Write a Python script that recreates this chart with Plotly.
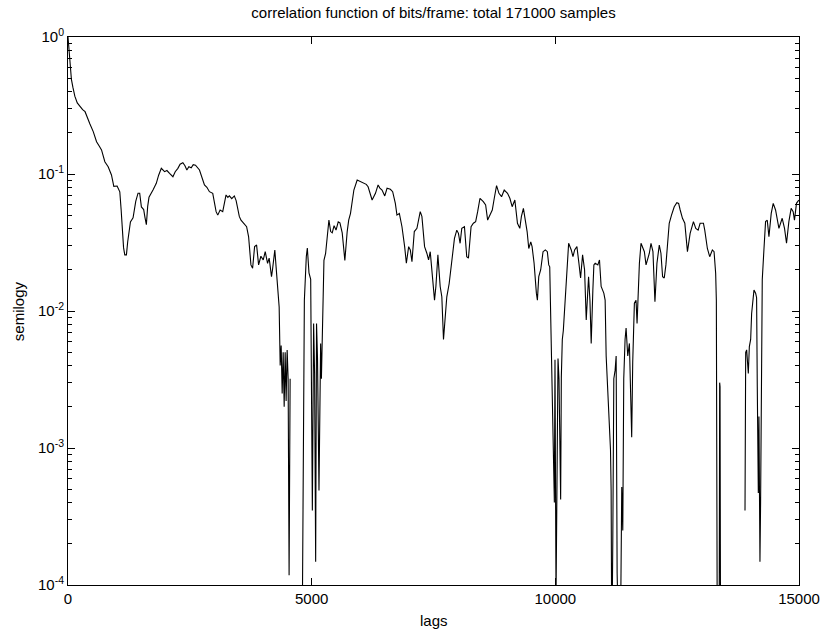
import plotly.graph_objects as go

# Sample correlation of bits/frame versus lag (None = negative, not drawable on log axis)
lags = [
    0, 15, 35, 55, 70, 100, 140, 190, 245, 300, 350, 400, 450, 518, 586, 640, 688, 756, 824, 892,
    940, 1008, 1063, 1090, 1117, 1140, 1165, 1199, 1225, 1253, 1281, 1335, 1360, 1390, 1437, 1471,
    1506, 1553, 1580, 1608, 1635, 1662, 1744, 1812, 1860, 1915, 1982, 2030, 2084, 2153, 2200, 2255,
    2300, 2357, 2400, 2439, 2480, 2528, 2570, 2616, 2698, 2750, 2800, 2850, 2902, 2970, 3000, 3039,
    3073, 3121, 3175, 3210, 3243, 3280, 3311, 3360, 3413, 3450, 3481, 3515, 3550, 3583, 3630, 3665,
    3706, 3730, 3754, 3788, 3810, 3829, 3870, 3890, 3911, 3958, 4006, 4047, 4075, 4095, 4128, 4155,
    4176, 4196, 4220, 4244, 4270, 4298, 4333, 4354, 4374, 4395, 4415, 4436, 4456, 4476, 4497, 4517,
    4537, 4558, 4578, 4800, 4830, 4850, 4890, 4911, 4945, 4980, 5014, 5040, 5060, 5082, 5100, 5120,
    5150, 5170, 5184, 5200, 5232, 5252, 5286, 5320, 5354, 5390, 5422, 5460, 5500, 5545, 5580, 5627,
    5681, 5729, 5760, 5797, 5831, 5866, 5934, 6002, 6070, 6120, 6158, 6200, 6240, 6309, 6363, 6400,
    6444, 6500, 6547, 6615, 6662, 6717, 6750, 6799, 6853, 6908, 6943, 6990, 7024, 7058, 7106, 7160,
    7228, 7262, 7317, 7365, 7399, 7433, 7481, 7521, 7549, 7590, 7637, 7671, 7705, 7739, 7773, 7821,
    7876, 7930, 7978, 8012, 8046, 8080, 8135, 8182, 8217, 8271, 8318, 8365, 8406, 8454, 8522, 8570,
    8611, 8658, 8706, 8747, 8794, 8843, 8897, 8951, 9019, 9067, 9114, 9169, 9223, 9271, 9304, 9345,
    9386, 9421, 9455, 9496, 9523, 9564, 9611, 9632, 9660, 9700, 9748, 9795, 9836, 9865, 9885, 9905,
    9925, 9939, 9966, 9980, 9993, 10014, 10034, 10055, 10075, 10109, 10123, 10143, 10164, 10191,
    10225, 10273, 10327, 10362, 10396, 10443, 10484, 10518, 10559, 10600, 10634, 10660, 10682,
    10710, 10736, 10770, 10791, 10818, 10872, 10906, 10940, 10995, 11022, 11043, 11077, 11111,
    11132, 11145, 11159, 11179, 11200, 11227, 11248, 11268, 11290, 11315, 11336, 11363, 11384,
    11404, 11431, 11452, 11486, 11520, 11567, 11588, 11622, 11656, 11677, 11704, 11725, 11758,
    11793, 11827, 11861, 11895, 11929, 11963, 12003, 12044, 12085, 12133, 12167, 12201, 12235,
    12269, 12303, 12337, 12384, 12440, 12493, 12530, 12562, 12609, 12657, 12711, 12766, 12834,
    12882, 12930, 12971, 13039, 13066, 13120, 13168, 13222, 13257, 13290, 13304, 13315, 13325,
    13345, 13360, 13372, 13380, 13386, 13393, 13400, 13892, 13906, 13926, 13940, 13960, 13981,
    14008, 14028, 14049, 14076, 14110, 14130, 14144, 14165, 14178, 14199, 14212, 14226, 14246,
    14280, 14314, 14349, 14383, 14430, 14471, 14519, 14588, 14655, 14703, 14744, 14792, 14839,
    14880, 14907, 14948, 14996,
]

corr = [
    1.0, 0.85, 0.64, 0.55, 0.49, 0.43, 0.37, 0.33, 0.31, 0.295, 0.285, 0.255, 0.232, 0.204, 0.172, 0.16, 0.150, 0.123, 0.113, 0.0984,
    0.0813, 0.0817, 0.0741, 0.055, 0.0369, 0.029, 0.0257, 0.0257, 0.032, 0.0389, 0.0447, 0.0479, 0.055, 0.0631, 0.0724, 0.0724,
    0.0575, 0.055, 0.048, 0.0427, 0.058, 0.0676, 0.0764, 0.0855, 0.098, 0.110, 0.104, 0.106, 0.101, 0.0955, 0.104, 0.110,
    0.118, 0.121, 0.115, 0.107, 0.113, 0.111, 0.117, 0.116, 0.107, 0.095, 0.0832, 0.080, 0.0743, 0.0723, 0.063, 0.0531,
    0.0501, 0.0546, 0.0531, 0.062, 0.0703, 0.0675, 0.0692, 0.066, 0.0692, 0.064, 0.0575, 0.049, 0.046, 0.0447, 0.043, 0.0412,
    0.0348, 0.027, 0.0217, 0.0205, 0.025, 0.0295, 0.0303, 0.026, 0.0217, 0.0251, 0.0236, 0.0271, 0.024, 0.0223, 0.0243, 0.021,
    0.0178, 0.0200, 0.024, 0.0279, 0.021, 0.0142, 0.0107, 0.004, 0.0056, 0.0025, 0.005, 0.002, 0.005, 0.0022, 0.0052, 0.0032,
    0.000118, 0.0032, None, 0.00002, 0.0035, 0.012, 0.025, 0.0288, 0.019, 0.017, 0.00035, 0.0081, 0.0035, 0.000148, 0.0081, 0.0045,
    0.00049, 0.004, 0.0058, 0.0032, 0.0151, 0.0234, 0.0263, 0.0347, 0.0461, 0.038, 0.0372, 0.042, 0.039, 0.0447, 0.044, 0.0372,
    0.0234, 0.038, 0.046, 0.0516, 0.0646, 0.0764, 0.0904, 0.0879, 0.0855, 0.084, 0.0807, 0.072, 0.0646, 0.0723, 0.0832, 0.079,
    0.0764, 0.0692, 0.0787, 0.0773, 0.0743, 0.0611, 0.0501, 0.0516, 0.0412, 0.0295, 0.0223, 0.0295, 0.0279, 0.0229, 0.038, 0.0401,
    0.0531, 0.049, 0.0295, 0.0263, 0.0236, 0.0271, 0.0178, 0.012, 0.0151, 0.0257, 0.0151, 0.0127, 0.0062, 0.0086, 0.0127, 0.0158,
    0.0236, 0.0339, 0.0389, 0.0369, 0.0312, 0.0401, 0.0412, 0.0249, 0.0243, 0.0412, 0.0437, 0.0449, 0.0531, 0.0665, 0.0628, 0.0594,
    0.0461, 0.0501, 0.0546, 0.0665, 0.0822, 0.0723, 0.0683, 0.0764, 0.0723, 0.0665, 0.0577, 0.0646, 0.0437, 0.0401, 0.049, 0.0562,
    0.0449, 0.038, 0.0286, 0.032, 0.0295, 0.0223, 0.0135, 0.012, 0.0178, 0.020, 0.0271, 0.0279, 0.0271, 0.0217, 0.021, 0.009,
    0.0035, 0.0018, 0.00078, 0.0004, 0.0044, 0.00008, 0.00055, 0.0045, 0.0032, 0.00042, 0.0033, 0.0062, 0.0072, 0.0108,
    0.0169, 0.0312, 0.0279, 0.0249, 0.0279, 0.0295, 0.0223, 0.0174, 0.0257, 0.020, 0.0086, 0.014, 0.0178,
    0.012, 0.0058, 0.0142, 0.0217, 0.0223, 0.0217, 0.0236, 0.0151, 0.0135, 0.012, 0.0047, 0.0028, 0.0016,
    0.00097, 0.00049, 0.00003, 0.00021, 0.0032, 0.0037, 0.0047, 0.000122, 0.00002, 0.00002, 0.00004, 0.00052, 0.00025,
    0.0032, 0.0062, 0.0075, 0.0047, 0.0058, 0.0012, 0.0042, 0.0114, 0.012, 0.0081, 0.0169, 0.0223, 0.0312,
    0.0286, 0.0271, 0.0217, 0.0236, 0.0264, 0.0312, 0.0271, 0.0117, 0.0223, 0.0303, 0.0264, 0.0178, 0.0174,
    0.0217, 0.0312, 0.0437, 0.0501, 0.0577, 0.0618, 0.061, 0.0546, 0.0475, 0.0437, 0.0271, 0.0369, 0.0449,
    0.0401, 0.0389, 0.0437, 0.0437, 0.0389, 0.0286, 0.0249, 0.0279, 0.0271, 0.0188, 0.012, 0.0009, 0.00002,
    None, 0.00002, 0.003, 0.0028, 0.0002, 0.00002, None, 0.00035, 0.005, 0.0052, 0.0044, 0.0035, 0.0055,
    0.0062, 0.0096, 0.012, 0.0142, 0.0135, 0.0125, 0.0028, 0.00047, 0.0017, 0.000148, 0.0004, 0.0062, 0.0169,
    0.0279, 0.0449, 0.046, 0.0348, 0.0516, 0.0611, 0.0546, 0.0401, 0.0475, 0.0401, 0.0312, 0.0449, 0.0562,
    0.0531, 0.0461, 0.0611, 0.0646,
]

x_ticks = [0, 5000, 10000, 15000]
y_ticks = [1e-4, 1e-3, 1e-2, 1e-1, 1e0]
y_tick_text = ["10<sup>-4</sup>", "10<sup>-3</sup>", "10<sup>-2</sup>", "10<sup>-1</sup>", "10<sup>0</sup>"]
y_minor = [m * d for d in (1e-4, 1e-3, 1e-2, 1e-1) for m in range(2, 10)]

W, H = 832, 631
L, R, T, B = 68, 30, 37, 46
font = "Liberation Sans, Arial, Helvetica, sans-serif"

fig = go.Figure(
    go.Scatter(
        x=lags, y=corr, mode="lines",
        line=dict(color="black", width=1.1),
        connectgaps=False, hoverinfo="skip",
    )
)

axis_common = dict(
    showline=True, linecolor="black", linewidth=1, mirror="allticks",
    ticks="inside", tickcolor="black", tickwidth=1,
    showgrid=False, zeroline=False,
    tickfont=dict(family=font, size=15, color="black"),
)

fig.update_xaxes(
    range=[0, 15000], tickmode="array", tickvals=x_ticks,
    ticktext=[str(v) for v in x_ticks], ticklen=7, **axis_common,
)
fig.update_yaxes(
    type="log", range=[-4, 0], tickmode="array", tickvals=y_ticks,
    ticktext=y_tick_text, ticklen=7,
    minor=dict(tickmode="array", tickvals=y_minor, ticks="inside",
               ticklen=4, tickcolor="black", tickwidth=1, showgrid=False),
    **axis_common,
)

fig.update_layout(
    width=W, height=H,
    margin=dict(l=L, r=R, t=T, b=B, pad=0),
    paper_bgcolor="white", plot_bgcolor="white",
    showlegend=False,
    title=dict(
        text="correlation function of bits/frame: total 171000 samples",
        x=0.5, xref="paper", xanchor="center",
        y=1 - 13 / H, yref="container", yanchor="middle",
        font=dict(family=font, size=15, color="black"),
    ),
    annotations=[
        dict(text="lags", x=0.5, y=-(620 - 585) / 548, xref="paper", yref="paper",
             xanchor="center", yanchor="middle", showarrow=False,
             font=dict(family=font, size=15, color="black")),
        dict(text="semilogy", x=-(68 - 18) / 734, y=0.5, xref="paper", yref="paper",
             xanchor="center", yanchor="middle", textangle=-90, showarrow=False,
             font=dict(family=font, size=15, color="black")),
    ],
)

fig.write_html("out.html")
